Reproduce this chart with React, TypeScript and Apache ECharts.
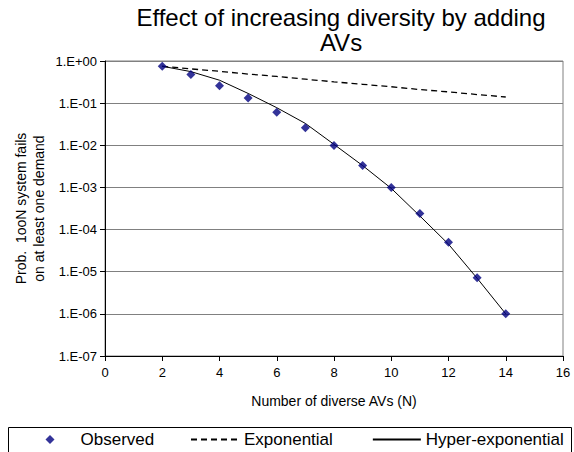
import React, { useEffect, useRef } from "react";
import * as echarts from "echarts";

const titleText = "Effect of increasing diversity by adding\nAVs";
const xAxisName = "Number of diverse AVs (N)";
const yAxisName = "Prob.  1ooN system fails\non at least one demand";

const nValues = [2, 3, 4, 5, 6, 7, 8, 9, 10, 11, 12, 13, 14];
const observed = [0.75, 0.48, 0.26, 0.133, 0.061, 0.026, 0.0099, 0.0033, 0.001, 0.00024, 0.00005, 0.0000072, 0.000001];
const exponential = [0.75, 0.65, 0.57, 0.49, 0.43, 0.37, 0.32, 0.28, 0.245, 0.21, 0.185, 0.16, 0.14];
const hyperExponential = [0.75, 0.56, 0.35, 0.17, 0.078, 0.033, 0.0105, 0.0033, 0.00095, 0.00021, 0.000045, 0.000007, 0.000001];

const yTickLabels = ["1.E-07", "1.E-06", "1.E-05", "1.E-04", "1.E-03", "1.E-02", "1.E-01", "1.E+00"];
const seriesNames = ["Observed", "Exponential", "Hyper-exponential"];

const FONT = "Liberation Sans, Arial, sans-serif";

export default function App() {
  const ref = useRef<HTMLDivElement>(null);
  useEffect(() => {
    if (!ref.current) return;
    const chart = echarts.init(ref.current, null, { renderer: "svg" });
    const pair = (arr: number[]) => nValues.map((n, i) => [n, arr[i]]);
    chart.setOption({
      animation: false,
      backgroundColor: "#ffffff",
      textStyle: { fontFamily: FONT, color: "#000" },
      title: {
        text: titleText,
        left: 336,
        textAlign: "center",
        top: 0,
        textStyle: { fontFamily: FONT, fontSize: 24, fontWeight: "normal", color: "#000", lineHeight: 25 },
      },
      grid: {
        left: 105,
        right: 11,
        top: 61,
        bottom: 96,
        show: true,
        borderColor: "#808080",
        borderWidth: 1,
        containLabel: false,
      },
      xAxis: {
        type: "value",
        min: 0,
        max: 16,
        interval: 2,
        name: xAxisName,
        nameLocation: "middle",
        nameGap: 38,
        nameMoveOverlap: false,
        nameTextStyle: { fontFamily: FONT, fontSize: 14, color: "#000" },
        axisLine: { lineStyle: { color: "#000", width: 1 } },
        axisTick: { show: true, length: 5, lineStyle: { color: "#000" } },
        axisLabel: { fontFamily: FONT, fontSize: 13, color: "#000", margin: 10 },
        splitLine: { show: false },
      },
      yAxis: {
        type: "log",
        logBase: 10,
        min: 1e-7,
        max: 1,
        name: yAxisName,
        nameLocation: "middle",
        nameGap: 57,
        nameMoveOverlap: false,
        nameTextStyle: { fontFamily: FONT, fontSize: 14, color: "#000", lineHeight: 18 },
        axisLine: { show: true, lineStyle: { color: "#000", width: 1 } },
        axisTick: { show: true, length: 5, lineStyle: { color: "#000" } },
        axisLabel: {
          fontFamily: FONT,
          fontSize: 13,
          color: "#000",
          margin: 8,
          formatter: (v: number) => {
            const e = Math.round(Math.log10(v));
            return yTickLabels[e + 7] ?? "";
          },
        },
        splitLine: { show: true, lineStyle: { color: "#808080", width: 1 } },
        minorTick: { show: false },
      },
      legend: [
        {
          left: 45.5,
          top: 431,
          itemWidth: 9,
          itemHeight: 9,
          padding: 0,
          textStyle: { fontFamily: FONT, fontSize: 17, color: "#000", padding: [0, 0, 0, 21] },
          data: [{ name: seriesNames[0], icon: "diamond", itemStyle: { color: "#000080" } }],
        },
        {
          left: 190,
          top: 431,
          itemWidth: 48,
          itemHeight: 9,
          itemGap: 39,
          padding: 0,
          textStyle: { fontFamily: FONT, fontSize: 17, color: "#000" },
          data: [
            { name: seriesNames[1], itemStyle: { opacity: 0 } },
            { name: seriesNames[2], itemStyle: { opacity: 0 } },
          ],
        },
      ],
      graphic: [
        {
          type: "rect",
          shape: { x: 8.5, y: 427.5, width: 563, height: 40 },
          style: { fill: "none", stroke: "#000", lineWidth: 1 },
          silent: true,
          z: -1,
        },
      ],
      series: [
        {
          name: seriesNames[1],
          type: "line",
          data: pair(exponential),
          symbol: "none",
          lineStyle: { color: "#000", width: 1.3, type: [6, 4] },
          itemStyle: { color: "#000" },
          z: 2,
        },
        {
          name: seriesNames[2],
          type: "line",
          data: pair(hyperExponential),
          symbol: "none",
          lineStyle: { color: "#000", width: 1 },
          itemStyle: { color: "#000" },
          z: 2,
        },
        {
          name: seriesNames[0],
          type: "scatter",
          data: pair(observed),
          symbol: "diamond",
          symbolSize: 9,
          itemStyle: { color: "#000080" },
          z: 3,
        },
      ],
    });
    return () => chart.dispose();
  }, []);
  return <div ref={ref} style={{ width: 574, height: 452, position: "absolute", left: 0, top: 0 }} />;
}
